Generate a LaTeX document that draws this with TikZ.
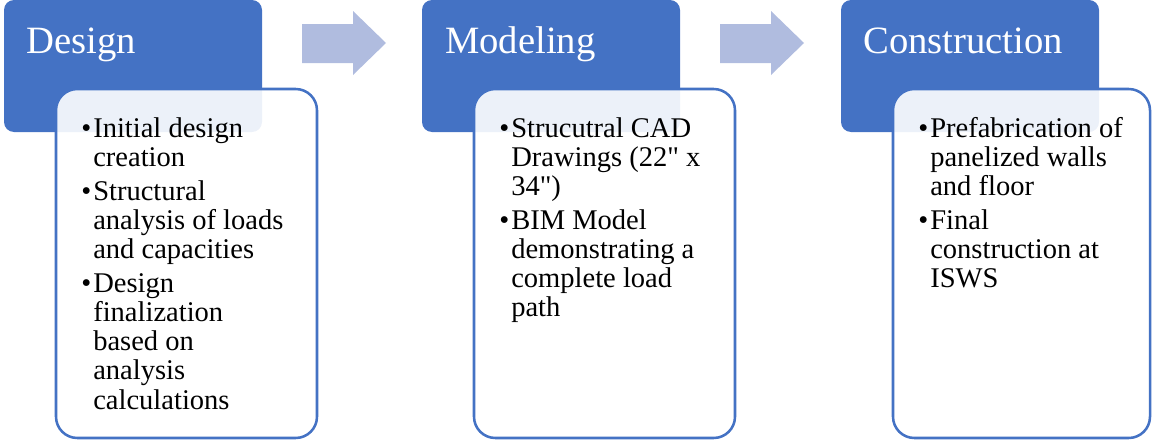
\documentclass[tikz,border=0pt]{standalone}
\usepackage{fontspec}
% family without the TeX mapping, so that " stays a straight inch mark
\newfontfamily\lserif{Liberation Serif}
\definecolor{hdrblue}{HTML}{4472C4}
\definecolor{arrblue}{HTML}{B0BCDF}
\newcommand\itm{\leavevmode\llap{\textbullet\hspace{1.5pt}}}
\tikzset{
  headbox/.style={fill=hdrblue, rounded corners=7.5pt},
  bodybox/.style={draw=hdrblue, line width=1.9pt, fill=white, fill opacity=0.9, rounded corners=16pt},
  stagearrow/.style={fill=arrblue},
  headtxt/.style={anchor=base west, inner sep=0pt, text=white, font=\lserif\fontsize{29}{34}\selectfont},
  bodytxt/.style={anchor=base west, inner sep=0pt, text=black, font=\lserif\fontsize{21.4}{21.9}\selectfont},
}
\begin{document}
\begin{tikzpicture}[x=0.75pt,y=-0.75pt]
\useasboundingbox (0,0) rectangle (1152,439);

% header panels
\fill[headbox] (4,0) rectangle (262,132);
\fill[headbox] (422,0) rectangle (680,132);
\fill[headbox] (841,0) rectangle (1099,132);

% block arrows between stages
\fill[stagearrow] (302,24) -- (353,24) -- (353,11) -- (386,43) -- (353,75) -- (353,63) -- (302,63) -- cycle;
\fill[stagearrow] (720,24) -- (771,24) -- (771,11) -- (804,43) -- (771,75) -- (771,63) -- (720,63) -- cycle;

% body panels overlapping the headers
\filldraw[bodybox] (56,89) rectangle (317,438);
\filldraw[bodybox] (474,89) rectangle (735,438);
\filldraw[bodybox] (893,89) rectangle (1150,438);

% stage titles
\node[headtxt] (h1) at (26,53) {Design};
\node[headtxt] (h2) at (445,53) {Modeling};
\node[headtxt] (h3) at (863,53) {Construction};

% stage contents
\node[bodytxt] (b1) at (93,137) {\parbox[t]{220pt}{%
  \itm Initial design\\
  creation\\[3.5pt]
  \itm Structural\\
  analysis of loads\\
  and capacities\\[3.5pt]
  \itm Design\\
  finalization\\
  based on\\
  analysis\\
  calculations}};
\node[bodytxt] (b2) at (511,137) {\parbox[t]{220pt}{%
  \itm Strucutral CAD\\
  Drawings (22" x\\
  34")\\[3.5pt]
  \itm BIM Model\\
  demonstrating a\\
  complete load\\
  path}};
\node[bodytxt] (b3) at (930,137) {\parbox[t]{220pt}{%
  \itm Prefabrication of\\
  panelized walls\\
  and floor\\[3.5pt]
  \itm Final\\
  construction at\\
  ISWS}};
\end{tikzpicture}
\end{document}
